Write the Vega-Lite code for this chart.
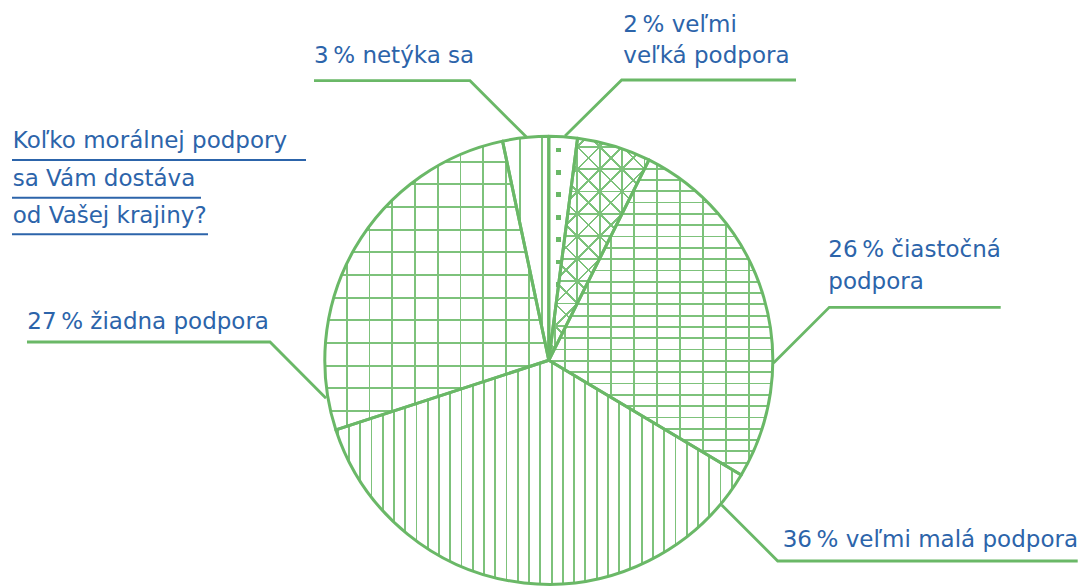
{
  "$schema": "https://vega.github.io/schema/vega-lite/v6.json",
  "width": 1081,
  "height": 586,
  "autosize": "none",
  "padding": 0,
  "background": "white",
  "config": {"view": {"stroke": null}},
  "datasets": {
    "slices": [
      {"id": "s1", "label": "veľmi veľká podpora", "value": 2.05, "ord": 1},
      {"id": "s2", "label": "veľká podpora", "value": 5.33, "ord": 2},
      {"id": "s3", "label": "čiastočná podpora", "value": 26.17, "ord": 3},
      {"id": "s4", "label": "veľmi malá podpora", "value": 36.42, "ord": 4},
      {"id": "s5", "label": "žiadna podpora", "value": 26.72, "ord": 5},
      {"id": "s6", "label": "netýka sa", "value": 3.31, "ord": 6}
    ],
    "leaders": [
      {"g": "a", "o": 1, "u": 7.23, "v": 100.13}, {"g": "a", "o": 2, "u": 32.54, "v": 125.13}, {"g": "a", "o": 3, "u": 110.36, "v": 125.13},
      {"g": "b", "o": 1, "u": -9.87, "v": 99.55}, {"g": "b", "o": 2, "u": -35.18, "v": 124.82}, {"g": "b", "o": 3, "u": -104.82, "v": 124.82},
      {"g": "c", "o": 1, "u": 100.31, "v": -1.21}, {"g": "c", "o": 2, "u": 125.22, "v": 23.66}, {"g": "c", "o": 3, "u": 201.74, "v": 23.66},
      {"g": "d", "o": 1, "u": 77.19, "v": -64.6}, {"g": "d", "o": 2, "u": 102.19, "v": -89.6}, {"g": "d", "o": 3, "u": 236.12, "v": -89.6},
      {"g": "e", "o": 1, "u": -232.95, "v": 8.17}, {"g": "e", "o": 2, "u": -124.46, "v": 8.17}, {"g": "e", "o": 3, "u": -99.46, "v": -16.96}
    ],
    "underlines": [
      {"u": -239.64, "u2": -108.39, "v": 89.42},
      {"u": -239.64, "u2": -155.27, "v": 72.59},
      {"u": -239.64, "u2": -152.14, "v": 56.25}
    ],
    "labels": [
      {"text": "Koľko morálnej podpory", "u": -239.33, "v": 94.64},
      {"text": "sa Vám dostáva", "u": -239.33, "v": 77.81},
      {"text": "od Vašej krajiny?", "u": -239.33, "v": 61.16},
      {"text": "3\u2009% netýka sa", "u": -104.82, "v": 132.59},
      {"text": "2\u2009% veľmi", "u": 33.26, "v": 146.7},
      {"text": "veľká podpora", "u": 33.26, "v": 132.59},
      {"text": "26\u2009% čiastočná", "u": 124.78, "v": 45.98},
      {"text": "podpora", "u": 124.78, "v": 31.61},
      {"text": "36\u2009% veľmi malá podpora", "u": 104.42, "v": -83.48},
      {"text": "27\u2009% žiadna podpora", "u": -232.81, "v": 13.84}
    ]
  },
  "layer": [
    {
      "data": {"name": "slices"},
      "transform": [{"stack": "value", "groupby": [], "sort": [{"field": "ord"}], "as": ["t0", "t1"]}, {"filter": "datum.id === 's1'"}],
      "mark": {"type": "arc", "radius": 224, "fill": {"gradient": "linear", "x1": 0, "y1": 0, "x2": 1, "y2": 0, "stops": [
        {"offset": 0, "color": "#ffffff"}, {"offset": 0.2433, "color": "#ffffff"}, {"offset": 0.2433, "color": "#6ab867"}, {"offset": 0.4171, "color": "#6ab867"}, {"offset": 0.4171, "color": "#ffffff"}, {"offset": 1, "color": "#ffffff"}]}},
      "encoding": {
        "theta": {"field": "t0", "type": "quantitative", "scale": {"domain": [0, 100]}},
        "theta2": {"field": "t1"},
        "x": {"datum": 0, "type": "quantitative", "scale": {"domain": [-245.0, 237.59], "nice": false, "zero": false}, "axis": null},
        "y": {"datum": 0, "type": "quantitative", "scale": {"domain": [-100.76, 160.85], "nice": false, "zero": false}, "axis": null}
      }
    },
    {
      "data": {"name": "slices"},
      "transform": [{"stack": "value", "groupby": [], "sort": [{"field": "ord"}], "as": ["t0", "t1"]}, {"filter": "datum.id === 's1'"}],
      "mark": {"type": "arc", "radius": 224, "fill": {"gradient": "linear", "x1": 0, "y1": 0, "x2": 0, "y2": 1, "stops": [
        {"offset": 0, "color": "#ffffff"},
        {"offset": 0.0505, "color": "#ffffff"}, {"offset": 0.0505, "color": "rgba(255,255,255,0)"}, {"offset": 0.0719, "color": "rgba(255,255,255,0)"}, {"offset": 0.0719, "color": "#ffffff"},
        {"offset": 0.1505, "color": "#ffffff"}, {"offset": 0.1505, "color": "rgba(255,255,255,0)"}, {"offset": 0.1719, "color": "rgba(255,255,255,0)"}, {"offset": 0.1719, "color": "#ffffff"},
        {"offset": 0.2505, "color": "#ffffff"}, {"offset": 0.2505, "color": "rgba(255,255,255,0)"}, {"offset": 0.2719, "color": "rgba(255,255,255,0)"}, {"offset": 0.2719, "color": "#ffffff"},
        {"offset": 0.3505, "color": "#ffffff"}, {"offset": 0.3505, "color": "rgba(255,255,255,0)"}, {"offset": 0.3719, "color": "rgba(255,255,255,0)"}, {"offset": 0.3719, "color": "#ffffff"},
        {"offset": 0.4505, "color": "#ffffff"}, {"offset": 0.4505, "color": "rgba(255,255,255,0)"}, {"offset": 0.4719, "color": "rgba(255,255,255,0)"}, {"offset": 0.4719, "color": "#ffffff"},
        {"offset": 0.5505, "color": "#ffffff"}, {"offset": 0.5505, "color": "rgba(255,255,255,0)"}, {"offset": 0.5719, "color": "rgba(255,255,255,0)"}, {"offset": 0.5719, "color": "#ffffff"},
        {"offset": 0.6505, "color": "#ffffff"}, {"offset": 0.6505, "color": "rgba(255,255,255,0)"}, {"offset": 0.6719, "color": "rgba(255,255,255,0)"}, {"offset": 0.6719, "color": "#ffffff"},
        {"offset": 0.7505, "color": "#ffffff"}, {"offset": 0.7505, "color": "rgba(255,255,255,0)"}, {"offset": 0.7719, "color": "rgba(255,255,255,0)"}, {"offset": 0.7719, "color": "#ffffff"},
        {"offset": 0.8505, "color": "#ffffff"}, {"offset": 0.8505, "color": "rgba(255,255,255,0)"}, {"offset": 0.8719, "color": "rgba(255,255,255,0)"}, {"offset": 0.8719, "color": "#ffffff"},
        {"offset": 0.9505, "color": "#ffffff"}, {"offset": 0.9505, "color": "rgba(255,255,255,0)"}, {"offset": 0.9719, "color": "rgba(255,255,255,0)"}, {"offset": 0.9719, "color": "#ffffff"},
        {"offset": 1, "color": "#ffffff"}]}},
      "encoding": {
        "theta": {"field": "t0", "type": "quantitative", "scale": {"domain": [0, 100]}},
        "theta2": {"field": "t1"},
        "x": {"datum": 0, "type": "quantitative", "scale": {"domain": [-245.0, 237.59], "nice": false, "zero": false}, "axis": null},
        "y": {"datum": 0, "type": "quantitative", "scale": {"domain": [-100.76, 160.85], "nice": false, "zero": false}, "axis": null}
      }
    },
    {
      "data": {"name": "slices"},
      "transform": [{"stack": "value", "groupby": [], "sort": [{"field": "ord"}], "as": ["t0", "t1"]}, {"filter": "datum.id === 's2'"}],
      "mark": {"type": "arc", "radius": 224, "fill": {"gradient": "linear", "x1": 0, "y1": 0, "x2": 1, "y2": 0, "stops": [
        {"offset": 0, "color": "#ffffff"},
        {"offset": 0.0519, "color": "#ffffff"}, {"offset": 0.0519, "color": "#7dc27b"}, {"offset": 0.0699, "color": "#7dc27b"}, {"offset": 0.0699, "color": "#ffffff"},
        {"offset": 0.2755, "color": "#ffffff"}, {"offset": 0.2755, "color": "#7dc27b"}, {"offset": 0.2935, "color": "#7dc27b"}, {"offset": 0.2935, "color": "#ffffff"},
        {"offset": 0.4991, "color": "#ffffff"}, {"offset": 0.4991, "color": "#7dc27b"}, {"offset": 0.5171, "color": "#7dc27b"}, {"offset": 0.5171, "color": "#ffffff"},
        {"offset": 0.7227, "color": "#ffffff"}, {"offset": 0.7227, "color": "#7dc27b"}, {"offset": 0.7407, "color": "#7dc27b"}, {"offset": 0.7407, "color": "#ffffff"},
        {"offset": 0.9463, "color": "#ffffff"}, {"offset": 0.9463, "color": "#7dc27b"}, {"offset": 0.9643, "color": "#7dc27b"}, {"offset": 0.9643, "color": "#ffffff"},
        {"offset": 1, "color": "#ffffff"}]}},
      "encoding": {
        "theta": {"field": "t0", "type": "quantitative", "scale": {"domain": [0, 100]}},
        "theta2": {"field": "t1"},
        "x": {"datum": 0, "type": "quantitative", "scale": {"domain": [-245.0, 237.59], "nice": false, "zero": false}, "axis": null},
        "y": {"datum": 0, "type": "quantitative", "scale": {"domain": [-100.76, 160.85], "nice": false, "zero": false}, "axis": null}
      }
    },
    {
      "data": {"name": "slices"},
      "transform": [{"stack": "value", "groupby": [], "sort": [{"field": "ord"}], "as": ["t0", "t1"]}, {"filter": "datum.id === 's2'"}],
      "mark": {"type": "arc", "radius": 224, "fill": {"gradient": "linear", "x1": 0, "y1": 0, "x2": 0, "y2": 1, "stops": [
        {"offset": 0, "color": "rgba(255,255,255,0)"},
        {"offset": 0.0344, "color": "rgba(255,255,255,0)"}, {"offset": 0.0344, "color": "#7dc27b"}, {"offset": 0.0426, "color": "#7dc27b"}, {"offset": 0.0426, "color": "rgba(255,255,255,0)"},
        {"offset": 0.1352, "color": "rgba(255,255,255,0)"}, {"offset": 0.1352, "color": "#7dc27b"}, {"offset": 0.1434, "color": "#7dc27b"}, {"offset": 0.1434, "color": "rgba(255,255,255,0)"},
        {"offset": 0.2361, "color": "rgba(255,255,255,0)"}, {"offset": 0.2361, "color": "#7dc27b"}, {"offset": 0.2443, "color": "#7dc27b"}, {"offset": 0.2443, "color": "rgba(255,255,255,0)"},
        {"offset": 0.3369, "color": "rgba(255,255,255,0)"}, {"offset": 0.3369, "color": "#7dc27b"}, {"offset": 0.3451, "color": "#7dc27b"}, {"offset": 0.3451, "color": "rgba(255,255,255,0)"},
        {"offset": 0.4377, "color": "rgba(255,255,255,0)"}, {"offset": 0.4377, "color": "#7dc27b"}, {"offset": 0.4459, "color": "#7dc27b"}, {"offset": 0.4459, "color": "rgba(255,255,255,0)"},
        {"offset": 0.5386, "color": "rgba(255,255,255,0)"}, {"offset": 0.5386, "color": "#7dc27b"}, {"offset": 0.5468, "color": "#7dc27b"}, {"offset": 0.5468, "color": "rgba(255,255,255,0)"},
        {"offset": 0.6394, "color": "rgba(255,255,255,0)"}, {"offset": 0.6394, "color": "#7dc27b"}, {"offset": 0.6476, "color": "#7dc27b"}, {"offset": 0.6476, "color": "rgba(255,255,255,0)"},
        {"offset": 0.7402, "color": "rgba(255,255,255,0)"}, {"offset": 0.7402, "color": "#7dc27b"}, {"offset": 0.7484, "color": "#7dc27b"}, {"offset": 0.7484, "color": "rgba(255,255,255,0)"},
        {"offset": 0.8411, "color": "rgba(255,255,255,0)"}, {"offset": 0.8411, "color": "#7dc27b"}, {"offset": 0.8493, "color": "#7dc27b"}, {"offset": 0.8493, "color": "rgba(255,255,255,0)"},
        {"offset": 0.9419, "color": "rgba(255,255,255,0)"}, {"offset": 0.9419, "color": "#7dc27b"}, {"offset": 0.9501, "color": "#7dc27b"}, {"offset": 0.9501, "color": "rgba(255,255,255,0)"},
        {"offset": 1, "color": "rgba(255,255,255,0)"}]}},
      "encoding": {
        "theta": {"field": "t0", "type": "quantitative", "scale": {"domain": [0, 100]}},
        "theta2": {"field": "t1"},
        "x": {"datum": 0, "type": "quantitative", "scale": {"domain": [-245.0, 237.59], "nice": false, "zero": false}, "axis": null},
        "y": {"datum": 0, "type": "quantitative", "scale": {"domain": [-100.76, 160.85], "nice": false, "zero": false}, "axis": null}
      }
    },
    {
      "data": {"name": "slices"},
      "transform": [{"stack": "value", "groupby": [], "sort": [{"field": "ord"}], "as": ["t0", "t1"]}, {"filter": "datum.id === 's2'"}],
      "mark": {"type": "arc", "radius": 224, "fill": {"gradient": "linear", "x1": 0, "y1": 0, "x2": 0.4049, "y2": 0.8978, "stops": [
        {"offset": 0, "color": "rgba(255,255,255,0)"},
        {"offset": 0.1491, "color": "rgba(255,255,255,0)"}, {"offset": 0.1491, "color": "#7dc27b"}, {"offset": 0.1597, "color": "#7dc27b"}, {"offset": 0.1597, "color": "rgba(255,255,255,0)"},
        {"offset": 0.2424, "color": "rgba(255,255,255,0)"}, {"offset": 0.2424, "color": "#7dc27b"}, {"offset": 0.2530, "color": "#7dc27b"}, {"offset": 0.2530, "color": "rgba(255,255,255,0)"},
        {"offset": 0.3357, "color": "rgba(255,255,255,0)"}, {"offset": 0.3357, "color": "#7dc27b"}, {"offset": 0.3463, "color": "#7dc27b"}, {"offset": 0.3463, "color": "rgba(255,255,255,0)"},
        {"offset": 0.4291, "color": "rgba(255,255,255,0)"}, {"offset": 0.4291, "color": "#7dc27b"}, {"offset": 0.4397, "color": "#7dc27b"}, {"offset": 0.4397, "color": "rgba(255,255,255,0)"},
        {"offset": 0.5224, "color": "rgba(255,255,255,0)"}, {"offset": 0.5224, "color": "#7dc27b"}, {"offset": 0.5330, "color": "#7dc27b"}, {"offset": 0.5330, "color": "rgba(255,255,255,0)"},
        {"offset": 0.6157, "color": "rgba(255,255,255,0)"}, {"offset": 0.6157, "color": "#7dc27b"}, {"offset": 0.6263, "color": "#7dc27b"}, {"offset": 0.6263, "color": "rgba(255,255,255,0)"},
        {"offset": 0.7091, "color": "rgba(255,255,255,0)"}, {"offset": 0.7091, "color": "#7dc27b"}, {"offset": 0.7197, "color": "#7dc27b"}, {"offset": 0.7197, "color": "rgba(255,255,255,0)"},
        {"offset": 0.8024, "color": "rgba(255,255,255,0)"}, {"offset": 0.8024, "color": "#7dc27b"}, {"offset": 0.8130, "color": "#7dc27b"}, {"offset": 0.8130, "color": "rgba(255,255,255,0)"},
        {"offset": 0.8957, "color": "rgba(255,255,255,0)"}, {"offset": 0.8957, "color": "#7dc27b"}, {"offset": 0.9063, "color": "#7dc27b"}, {"offset": 0.9063, "color": "rgba(255,255,255,0)"},
        {"offset": 1, "color": "rgba(255,255,255,0)"}]}},
      "encoding": {
        "theta": {"field": "t0", "type": "quantitative", "scale": {"domain": [0, 100]}},
        "theta2": {"field": "t1"},
        "x": {"datum": 0, "type": "quantitative", "scale": {"domain": [-245.0, 237.59], "nice": false, "zero": false}, "axis": null},
        "y": {"datum": 0, "type": "quantitative", "scale": {"domain": [-100.76, 160.85], "nice": false, "zero": false}, "axis": null}
      }
    },
    {
      "data": {"name": "slices"},
      "transform": [{"stack": "value", "groupby": [], "sort": [{"field": "ord"}], "as": ["t0", "t1"]}, {"filter": "datum.id === 's2'"}],
      "mark": {"type": "arc", "radius": 224, "fill": {"gradient": "linear", "x1": 0, "y1": 1, "x2": 0.5398, "y2": -0.197, "stops": [
        {"offset": 0, "color": "rgba(255,255,255,0)"},
        {"offset": 0.0526, "color": "rgba(255,255,255,0)"}, {"offset": 0.0526, "color": "#7dc27b"}, {"offset": 0.0606, "color": "#7dc27b"}, {"offset": 0.0606, "color": "rgba(255,255,255,0)"},
        {"offset": 0.1226, "color": "rgba(255,255,255,0)"}, {"offset": 0.1226, "color": "#7dc27b"}, {"offset": 0.1306, "color": "#7dc27b"}, {"offset": 0.1306, "color": "rgba(255,255,255,0)"},
        {"offset": 0.1926, "color": "rgba(255,255,255,0)"}, {"offset": 0.1926, "color": "#7dc27b"}, {"offset": 0.2006, "color": "#7dc27b"}, {"offset": 0.2006, "color": "rgba(255,255,255,0)"},
        {"offset": 0.2626, "color": "rgba(255,255,255,0)"}, {"offset": 0.2626, "color": "#7dc27b"}, {"offset": 0.2706, "color": "#7dc27b"}, {"offset": 0.2706, "color": "rgba(255,255,255,0)"},
        {"offset": 0.3326, "color": "rgba(255,255,255,0)"}, {"offset": 0.3326, "color": "#7dc27b"}, {"offset": 0.3406, "color": "#7dc27b"}, {"offset": 0.3406, "color": "rgba(255,255,255,0)"},
        {"offset": 0.4026, "color": "rgba(255,255,255,0)"}, {"offset": 0.4026, "color": "#7dc27b"}, {"offset": 0.4106, "color": "#7dc27b"}, {"offset": 0.4106, "color": "rgba(255,255,255,0)"},
        {"offset": 0.4726, "color": "rgba(255,255,255,0)"}, {"offset": 0.4726, "color": "#7dc27b"}, {"offset": 0.4806, "color": "#7dc27b"}, {"offset": 0.4806, "color": "rgba(255,255,255,0)"},
        {"offset": 0.5426, "color": "rgba(255,255,255,0)"}, {"offset": 0.5426, "color": "#7dc27b"}, {"offset": 0.5506, "color": "#7dc27b"}, {"offset": 0.5506, "color": "rgba(255,255,255,0)"},
        {"offset": 0.6126, "color": "rgba(255,255,255,0)"}, {"offset": 0.6126, "color": "#7dc27b"}, {"offset": 0.6206, "color": "#7dc27b"}, {"offset": 0.6206, "color": "rgba(255,255,255,0)"},
        {"offset": 0.6826, "color": "rgba(255,255,255,0)"}, {"offset": 0.6826, "color": "#7dc27b"}, {"offset": 0.6906, "color": "#7dc27b"}, {"offset": 0.6906, "color": "rgba(255,255,255,0)"},
        {"offset": 0.7526, "color": "rgba(255,255,255,0)"}, {"offset": 0.7526, "color": "#7dc27b"}, {"offset": 0.7606, "color": "#7dc27b"}, {"offset": 0.7606, "color": "rgba(255,255,255,0)"},
        {"offset": 0.8226, "color": "rgba(255,255,255,0)"}, {"offset": 0.8226, "color": "#7dc27b"}, {"offset": 0.8306, "color": "#7dc27b"}, {"offset": 0.8306, "color": "rgba(255,255,255,0)"},
        {"offset": 0.8926, "color": "rgba(255,255,255,0)"}, {"offset": 0.8926, "color": "#7dc27b"}, {"offset": 0.9006, "color": "#7dc27b"}, {"offset": 0.9006, "color": "rgba(255,255,255,0)"},
        {"offset": 1, "color": "rgba(255,255,255,0)"}]}},
      "encoding": {
        "theta": {"field": "t0", "type": "quantitative", "scale": {"domain": [0, 100]}},
        "theta2": {"field": "t1"},
        "x": {"datum": 0, "type": "quantitative", "scale": {"domain": [-245.0, 237.59], "nice": false, "zero": false}, "axis": null},
        "y": {"datum": 0, "type": "quantitative", "scale": {"domain": [-100.76, 160.85], "nice": false, "zero": false}, "axis": null}
      }
    },
    {
      "data": {"name": "slices"},
      "transform": [{"stack": "value", "groupby": [], "sort": [{"field": "ord"}], "as": ["t0", "t1"]}, {"filter": "datum.id === 's3'"}],
      "mark": {"type": "arc", "radius": 224, "fill": {"gradient": "linear", "x1": 0, "y1": 0, "x2": 1, "y2": 0, "stops": [
        {"offset": 0, "color": "#ffffff"},
        {"offset": 0.0670, "color": "#ffffff"}, {"offset": 0.0670, "color": "#7dc27b"}, {"offset": 0.0750, "color": "#7dc27b"}, {"offset": 0.0750, "color": "#ffffff"},
        {"offset": 0.1697, "color": "#ffffff"}, {"offset": 0.1697, "color": "#7dc27b"}, {"offset": 0.1777, "color": "#7dc27b"}, {"offset": 0.1777, "color": "#ffffff"},
        {"offset": 0.2723, "color": "#ffffff"}, {"offset": 0.2723, "color": "#7dc27b"}, {"offset": 0.2803, "color": "#7dc27b"}, {"offset": 0.2803, "color": "#ffffff"},
        {"offset": 0.3750, "color": "#ffffff"}, {"offset": 0.3750, "color": "#7dc27b"}, {"offset": 0.3830, "color": "#7dc27b"}, {"offset": 0.3830, "color": "#ffffff"},
        {"offset": 0.4777, "color": "#ffffff"}, {"offset": 0.4777, "color": "#7dc27b"}, {"offset": 0.4857, "color": "#7dc27b"}, {"offset": 0.4857, "color": "#ffffff"},
        {"offset": 0.5804, "color": "#ffffff"}, {"offset": 0.5804, "color": "#7dc27b"}, {"offset": 0.5884, "color": "#7dc27b"}, {"offset": 0.5884, "color": "#ffffff"},
        {"offset": 0.6831, "color": "#ffffff"}, {"offset": 0.6831, "color": "#7dc27b"}, {"offset": 0.6911, "color": "#7dc27b"}, {"offset": 0.6911, "color": "#ffffff"},
        {"offset": 0.7857, "color": "#ffffff"}, {"offset": 0.7857, "color": "#7dc27b"}, {"offset": 0.7937, "color": "#7dc27b"}, {"offset": 0.7937, "color": "#ffffff"},
        {"offset": 0.8884, "color": "#ffffff"}, {"offset": 0.8884, "color": "#7dc27b"}, {"offset": 0.8964, "color": "#7dc27b"}, {"offset": 0.8964, "color": "#ffffff"},
        {"offset": 1, "color": "#ffffff"}]}},
      "encoding": {
        "theta": {"field": "t0", "type": "quantitative", "scale": {"domain": [0, 100]}},
        "theta2": {"field": "t1"},
        "x": {"datum": 0, "type": "quantitative", "scale": {"domain": [-245.0, 237.59], "nice": false, "zero": false}, "axis": null},
        "y": {"datum": 0, "type": "quantitative", "scale": {"domain": [-100.76, 160.85], "nice": false, "zero": false}, "axis": null}
      }
    },
    {
      "data": {"name": "slices"},
      "transform": [{"stack": "value", "groupby": [], "sort": [{"field": "ord"}], "as": ["t0", "t1"]}, {"filter": "datum.id === 's3'"}],
      "mark": {"type": "arc", "radius": 224, "fill": {"gradient": "linear", "x1": 0, "y1": 0, "x2": 0, "y2": 1, "stops": [
        {"offset": 0, "color": "rgba(255,255,255,0)"},
        {"offset": 0.0246, "color": "rgba(255,255,255,0)"}, {"offset": 0.0246, "color": "#7dc27b"}, {"offset": 0.0304, "color": "#7dc27b"}, {"offset": 0.0304, "color": "rgba(255,255,255,0)"},
        {"offset": 0.0605, "color": "rgba(255,255,255,0)"}, {"offset": 0.0605, "color": "#7dc27b"}, {"offset": 0.0663, "color": "#7dc27b"}, {"offset": 0.0663, "color": "rgba(255,255,255,0)"},
        {"offset": 0.0965, "color": "rgba(255,255,255,0)"}, {"offset": 0.0965, "color": "#7dc27b"}, {"offset": 0.1022, "color": "#7dc27b"}, {"offset": 0.1022, "color": "rgba(255,255,255,0)"},
        {"offset": 0.1324, "color": "rgba(255,255,255,0)"}, {"offset": 0.1324, "color": "#7dc27b"}, {"offset": 0.1381, "color": "#7dc27b"}, {"offset": 0.1381, "color": "rgba(255,255,255,0)"},
        {"offset": 0.1683, "color": "rgba(255,255,255,0)"}, {"offset": 0.1683, "color": "#7dc27b"}, {"offset": 0.1740, "color": "#7dc27b"}, {"offset": 0.1740, "color": "rgba(255,255,255,0)"},
        {"offset": 0.2042, "color": "rgba(255,255,255,0)"}, {"offset": 0.2042, "color": "#7dc27b"}, {"offset": 0.2099, "color": "#7dc27b"}, {"offset": 0.2099, "color": "rgba(255,255,255,0)"},
        {"offset": 0.2401, "color": "rgba(255,255,255,0)"}, {"offset": 0.2401, "color": "#7dc27b"}, {"offset": 0.2458, "color": "#7dc27b"}, {"offset": 0.2458, "color": "rgba(255,255,255,0)"},
        {"offset": 0.2760, "color": "rgba(255,255,255,0)"}, {"offset": 0.2760, "color": "#7dc27b"}, {"offset": 0.2817, "color": "#7dc27b"}, {"offset": 0.2817, "color": "rgba(255,255,255,0)"},
        {"offset": 0.3119, "color": "rgba(255,255,255,0)"}, {"offset": 0.3119, "color": "#7dc27b"}, {"offset": 0.3176, "color": "#7dc27b"}, {"offset": 0.3176, "color": "rgba(255,255,255,0)"},
        {"offset": 0.3478, "color": "rgba(255,255,255,0)"}, {"offset": 0.3478, "color": "#7dc27b"}, {"offset": 0.3535, "color": "#7dc27b"}, {"offset": 0.3535, "color": "rgba(255,255,255,0)"},
        {"offset": 0.3837, "color": "rgba(255,255,255,0)"}, {"offset": 0.3837, "color": "#7dc27b"}, {"offset": 0.3894, "color": "#7dc27b"}, {"offset": 0.3894, "color": "rgba(255,255,255,0)"},
        {"offset": 0.4196, "color": "rgba(255,255,255,0)"}, {"offset": 0.4196, "color": "#7dc27b"}, {"offset": 0.4253, "color": "#7dc27b"}, {"offset": 0.4253, "color": "rgba(255,255,255,0)"},
        {"offset": 0.4555, "color": "rgba(255,255,255,0)"}, {"offset": 0.4555, "color": "#7dc27b"}, {"offset": 0.4612, "color": "#7dc27b"}, {"offset": 0.4612, "color": "rgba(255,255,255,0)"},
        {"offset": 0.4914, "color": "rgba(255,255,255,0)"}, {"offset": 0.4914, "color": "#7dc27b"}, {"offset": 0.4971, "color": "#7dc27b"}, {"offset": 0.4971, "color": "rgba(255,255,255,0)"},
        {"offset": 0.5273, "color": "rgba(255,255,255,0)"}, {"offset": 0.5273, "color": "#7dc27b"}, {"offset": 0.5330, "color": "#7dc27b"}, {"offset": 0.5330, "color": "rgba(255,255,255,0)"},
        {"offset": 0.5632, "color": "rgba(255,255,255,0)"}, {"offset": 0.5632, "color": "#7dc27b"}, {"offset": 0.5689, "color": "#7dc27b"}, {"offset": 0.5689, "color": "rgba(255,255,255,0)"},
        {"offset": 0.5991, "color": "rgba(255,255,255,0)"}, {"offset": 0.5991, "color": "#7dc27b"}, {"offset": 0.6049, "color": "#7dc27b"}, {"offset": 0.6049, "color": "rgba(255,255,255,0)"},
        {"offset": 0.6350, "color": "rgba(255,255,255,0)"}, {"offset": 0.6350, "color": "#7dc27b"}, {"offset": 0.6408, "color": "#7dc27b"}, {"offset": 0.6408, "color": "rgba(255,255,255,0)"},
        {"offset": 0.6710, "color": "rgba(255,255,255,0)"}, {"offset": 0.6710, "color": "#7dc27b"}, {"offset": 0.6767, "color": "#7dc27b"}, {"offset": 0.6767, "color": "rgba(255,255,255,0)"},
        {"offset": 0.7069, "color": "rgba(255,255,255,0)"}, {"offset": 0.7069, "color": "#7dc27b"}, {"offset": 0.7126, "color": "#7dc27b"}, {"offset": 0.7126, "color": "rgba(255,255,255,0)"},
        {"offset": 0.7428, "color": "rgba(255,255,255,0)"}, {"offset": 0.7428, "color": "#7dc27b"}, {"offset": 0.7485, "color": "#7dc27b"}, {"offset": 0.7485, "color": "rgba(255,255,255,0)"},
        {"offset": 0.7787, "color": "rgba(255,255,255,0)"}, {"offset": 0.7787, "color": "#7dc27b"}, {"offset": 0.7844, "color": "#7dc27b"}, {"offset": 0.7844, "color": "rgba(255,255,255,0)"},
        {"offset": 0.8146, "color": "rgba(255,255,255,0)"}, {"offset": 0.8146, "color": "#7dc27b"}, {"offset": 0.8203, "color": "#7dc27b"}, {"offset": 0.8203, "color": "rgba(255,255,255,0)"},
        {"offset": 0.8505, "color": "rgba(255,255,255,0)"}, {"offset": 0.8505, "color": "#7dc27b"}, {"offset": 0.8562, "color": "#7dc27b"}, {"offset": 0.8562, "color": "rgba(255,255,255,0)"},
        {"offset": 0.8864, "color": "rgba(255,255,255,0)"}, {"offset": 0.8864, "color": "#7dc27b"}, {"offset": 0.8921, "color": "#7dc27b"}, {"offset": 0.8921, "color": "rgba(255,255,255,0)"},
        {"offset": 0.9223, "color": "rgba(255,255,255,0)"}, {"offset": 0.9223, "color": "#7dc27b"}, {"offset": 0.9280, "color": "#7dc27b"}, {"offset": 0.9280, "color": "rgba(255,255,255,0)"},
        {"offset": 0.9582, "color": "rgba(255,255,255,0)"}, {"offset": 0.9582, "color": "#7dc27b"}, {"offset": 0.9639, "color": "#7dc27b"}, {"offset": 0.9639, "color": "rgba(255,255,255,0)"},
        {"offset": 1, "color": "rgba(255,255,255,0)"}]}},
      "encoding": {
        "theta": {"field": "t0", "type": "quantitative", "scale": {"domain": [0, 100]}},
        "theta2": {"field": "t1"},
        "x": {"datum": 0, "type": "quantitative", "scale": {"domain": [-245.0, 237.59], "nice": false, "zero": false}, "axis": null},
        "y": {"datum": 0, "type": "quantitative", "scale": {"domain": [-100.76, 160.85], "nice": false, "zero": false}, "axis": null}
      }
    },
    {
      "data": {"name": "slices"},
      "transform": [{"stack": "value", "groupby": [], "sort": [{"field": "ord"}], "as": ["t0", "t1"]}, {"filter": "datum.id === 's4'"}],
      "mark": {"type": "arc", "radius": 224, "fill": {"gradient": "linear", "x1": 0, "y1": 0, "x2": 1, "y2": 0, "stops": [
        {"offset": 0, "color": "#ffffff"},
        {"offset": 0.0023, "color": "#ffffff"}, {"offset": 0.0023, "color": "#7dc27b"}, {"offset": 0.0068, "color": "#7dc27b"}, {"offset": 0.0068, "color": "#ffffff"},
        {"offset": 0.0301, "color": "#ffffff"}, {"offset": 0.0301, "color": "#7dc27b"}, {"offset": 0.0345, "color": "#7dc27b"}, {"offset": 0.0345, "color": "#ffffff"},
        {"offset": 0.0579, "color": "#ffffff"}, {"offset": 0.0579, "color": "#7dc27b"}, {"offset": 0.0623, "color": "#7dc27b"}, {"offset": 0.0623, "color": "#ffffff"},
        {"offset": 0.0856, "color": "#ffffff"}, {"offset": 0.0856, "color": "#7dc27b"}, {"offset": 0.0901, "color": "#7dc27b"}, {"offset": 0.0901, "color": "#ffffff"},
        {"offset": 0.1134, "color": "#ffffff"}, {"offset": 0.1134, "color": "#7dc27b"}, {"offset": 0.1178, "color": "#7dc27b"}, {"offset": 0.1178, "color": "#ffffff"},
        {"offset": 0.1412, "color": "#ffffff"}, {"offset": 0.1412, "color": "#7dc27b"}, {"offset": 0.1456, "color": "#7dc27b"}, {"offset": 0.1456, "color": "#ffffff"},
        {"offset": 0.1689, "color": "#ffffff"}, {"offset": 0.1689, "color": "#7dc27b"}, {"offset": 0.1734, "color": "#7dc27b"}, {"offset": 0.1734, "color": "#ffffff"},
        {"offset": 0.1967, "color": "#ffffff"}, {"offset": 0.1967, "color": "#7dc27b"}, {"offset": 0.2011, "color": "#7dc27b"}, {"offset": 0.2011, "color": "#ffffff"},
        {"offset": 0.2245, "color": "#ffffff"}, {"offset": 0.2245, "color": "#7dc27b"}, {"offset": 0.2289, "color": "#7dc27b"}, {"offset": 0.2289, "color": "#ffffff"},
        {"offset": 0.2523, "color": "#ffffff"}, {"offset": 0.2523, "color": "#7dc27b"}, {"offset": 0.2567, "color": "#7dc27b"}, {"offset": 0.2567, "color": "#ffffff"},
        {"offset": 0.2800, "color": "#ffffff"}, {"offset": 0.2800, "color": "#7dc27b"}, {"offset": 0.2845, "color": "#7dc27b"}, {"offset": 0.2845, "color": "#ffffff"},
        {"offset": 0.3078, "color": "#ffffff"}, {"offset": 0.3078, "color": "#7dc27b"}, {"offset": 0.3122, "color": "#7dc27b"}, {"offset": 0.3122, "color": "#ffffff"},
        {"offset": 0.3356, "color": "#ffffff"}, {"offset": 0.3356, "color": "#7dc27b"}, {"offset": 0.3400, "color": "#7dc27b"}, {"offset": 0.3400, "color": "#ffffff"},
        {"offset": 0.3633, "color": "#ffffff"}, {"offset": 0.3633, "color": "#7dc27b"}, {"offset": 0.3678, "color": "#7dc27b"}, {"offset": 0.3678, "color": "#ffffff"},
        {"offset": 0.3911, "color": "#ffffff"}, {"offset": 0.3911, "color": "#7dc27b"}, {"offset": 0.3955, "color": "#7dc27b"}, {"offset": 0.3955, "color": "#ffffff"},
        {"offset": 0.4189, "color": "#ffffff"}, {"offset": 0.4189, "color": "#7dc27b"}, {"offset": 0.4233, "color": "#7dc27b"}, {"offset": 0.4233, "color": "#ffffff"},
        {"offset": 0.4466, "color": "#ffffff"}, {"offset": 0.4466, "color": "#7dc27b"}, {"offset": 0.4511, "color": "#7dc27b"}, {"offset": 0.4511, "color": "#ffffff"},
        {"offset": 0.4744, "color": "#ffffff"}, {"offset": 0.4744, "color": "#7dc27b"}, {"offset": 0.4788, "color": "#7dc27b"}, {"offset": 0.4788, "color": "#ffffff"},
        {"offset": 0.5022, "color": "#ffffff"}, {"offset": 0.5022, "color": "#7dc27b"}, {"offset": 0.5066, "color": "#7dc27b"}, {"offset": 0.5066, "color": "#ffffff"},
        {"offset": 0.5299, "color": "#ffffff"}, {"offset": 0.5299, "color": "#7dc27b"}, {"offset": 0.5344, "color": "#7dc27b"}, {"offset": 0.5344, "color": "#ffffff"},
        {"offset": 0.5577, "color": "#ffffff"}, {"offset": 0.5577, "color": "#7dc27b"}, {"offset": 0.5622, "color": "#7dc27b"}, {"offset": 0.5622, "color": "#ffffff"},
        {"offset": 0.5855, "color": "#ffffff"}, {"offset": 0.5855, "color": "#7dc27b"}, {"offset": 0.5899, "color": "#7dc27b"}, {"offset": 0.5899, "color": "#ffffff"},
        {"offset": 0.6133, "color": "#ffffff"}, {"offset": 0.6133, "color": "#7dc27b"}, {"offset": 0.6177, "color": "#7dc27b"}, {"offset": 0.6177, "color": "#ffffff"},
        {"offset": 0.6410, "color": "#ffffff"}, {"offset": 0.6410, "color": "#7dc27b"}, {"offset": 0.6455, "color": "#7dc27b"}, {"offset": 0.6455, "color": "#ffffff"},
        {"offset": 0.6688, "color": "#ffffff"}, {"offset": 0.6688, "color": "#7dc27b"}, {"offset": 0.6732, "color": "#7dc27b"}, {"offset": 0.6732, "color": "#ffffff"},
        {"offset": 0.6966, "color": "#ffffff"}, {"offset": 0.6966, "color": "#7dc27b"}, {"offset": 0.7010, "color": "#7dc27b"}, {"offset": 0.7010, "color": "#ffffff"},
        {"offset": 0.7243, "color": "#ffffff"}, {"offset": 0.7243, "color": "#7dc27b"}, {"offset": 0.7288, "color": "#7dc27b"}, {"offset": 0.7288, "color": "#ffffff"},
        {"offset": 0.7521, "color": "#ffffff"}, {"offset": 0.7521, "color": "#7dc27b"}, {"offset": 0.7565, "color": "#7dc27b"}, {"offset": 0.7565, "color": "#ffffff"},
        {"offset": 0.7799, "color": "#ffffff"}, {"offset": 0.7799, "color": "#7dc27b"}, {"offset": 0.7843, "color": "#7dc27b"}, {"offset": 0.7843, "color": "#ffffff"},
        {"offset": 0.8076, "color": "#ffffff"}, {"offset": 0.8076, "color": "#7dc27b"}, {"offset": 0.8121, "color": "#7dc27b"}, {"offset": 0.8121, "color": "#ffffff"},
        {"offset": 0.8354, "color": "#ffffff"}, {"offset": 0.8354, "color": "#7dc27b"}, {"offset": 0.8398, "color": "#7dc27b"}, {"offset": 0.8398, "color": "#ffffff"},
        {"offset": 0.8632, "color": "#ffffff"}, {"offset": 0.8632, "color": "#7dc27b"}, {"offset": 0.8676, "color": "#7dc27b"}, {"offset": 0.8676, "color": "#ffffff"},
        {"offset": 0.8909, "color": "#ffffff"}, {"offset": 0.8909, "color": "#7dc27b"}, {"offset": 0.8954, "color": "#7dc27b"}, {"offset": 0.8954, "color": "#ffffff"},
        {"offset": 0.9187, "color": "#ffffff"}, {"offset": 0.9187, "color": "#7dc27b"}, {"offset": 0.9231, "color": "#7dc27b"}, {"offset": 0.9231, "color": "#ffffff"},
        {"offset": 0.9465, "color": "#ffffff"}, {"offset": 0.9465, "color": "#7dc27b"}, {"offset": 0.9509, "color": "#7dc27b"}, {"offset": 0.9509, "color": "#ffffff"},
        {"offset": 0.9742, "color": "#ffffff"}, {"offset": 0.9742, "color": "#7dc27b"}, {"offset": 0.9787, "color": "#7dc27b"}, {"offset": 0.9787, "color": "#ffffff"},
        {"offset": 1, "color": "#ffffff"}]}},
      "encoding": {
        "theta": {"field": "t0", "type": "quantitative", "scale": {"domain": [0, 100]}},
        "theta2": {"field": "t1"},
        "x": {"datum": 0, "type": "quantitative", "scale": {"domain": [-245.0, 237.59], "nice": false, "zero": false}, "axis": null},
        "y": {"datum": 0, "type": "quantitative", "scale": {"domain": [-100.76, 160.85], "nice": false, "zero": false}, "axis": null}
      }
    },
    {
      "data": {"name": "slices"},
      "transform": [{"stack": "value", "groupby": [], "sort": [{"field": "ord"}], "as": ["t0", "t1"]}, {"filter": "datum.id === 's5'"}],
      "mark": {"type": "arc", "radius": 224, "fill": {"gradient": "linear", "x1": 0, "y1": 0, "x2": 1, "y2": 0, "stops": [
        {"offset": 0, "color": "#ffffff"},
        {"offset": 0.0938, "color": "#ffffff"}, {"offset": 0.0938, "color": "#7dc27b"}, {"offset": 0.1018, "color": "#7dc27b"}, {"offset": 0.1018, "color": "#ffffff"},
        {"offset": 0.1954, "color": "#ffffff"}, {"offset": 0.1954, "color": "#7dc27b"}, {"offset": 0.2034, "color": "#7dc27b"}, {"offset": 0.2034, "color": "#ffffff"},
        {"offset": 0.2970, "color": "#ffffff"}, {"offset": 0.2970, "color": "#7dc27b"}, {"offset": 0.3050, "color": "#7dc27b"}, {"offset": 0.3050, "color": "#ffffff"},
        {"offset": 0.3986, "color": "#ffffff"}, {"offset": 0.3986, "color": "#7dc27b"}, {"offset": 0.4066, "color": "#7dc27b"}, {"offset": 0.4066, "color": "#ffffff"},
        {"offset": 0.5002, "color": "#ffffff"}, {"offset": 0.5002, "color": "#7dc27b"}, {"offset": 0.5082, "color": "#7dc27b"}, {"offset": 0.5082, "color": "#ffffff"},
        {"offset": 0.6018, "color": "#ffffff"}, {"offset": 0.6018, "color": "#7dc27b"}, {"offset": 0.6098, "color": "#7dc27b"}, {"offset": 0.6098, "color": "#ffffff"},
        {"offset": 0.7034, "color": "#ffffff"}, {"offset": 0.7034, "color": "#7dc27b"}, {"offset": 0.7114, "color": "#7dc27b"}, {"offset": 0.7114, "color": "#ffffff"},
        {"offset": 0.8050, "color": "#ffffff"}, {"offset": 0.8050, "color": "#7dc27b"}, {"offset": 0.8130, "color": "#7dc27b"}, {"offset": 0.8130, "color": "#ffffff"},
        {"offset": 0.9066, "color": "#ffffff"}, {"offset": 0.9066, "color": "#7dc27b"}, {"offset": 0.9146, "color": "#7dc27b"}, {"offset": 0.9146, "color": "#ffffff"},
        {"offset": 1, "color": "#ffffff"}]}},
      "encoding": {
        "theta": {"field": "t0", "type": "quantitative", "scale": {"domain": [0, 100]}},
        "theta2": {"field": "t1"},
        "x": {"datum": 0, "type": "quantitative", "scale": {"domain": [-245.0, 237.59], "nice": false, "zero": false}, "axis": null},
        "y": {"datum": 0, "type": "quantitative", "scale": {"domain": [-100.76, 160.85], "nice": false, "zero": false}, "axis": null}
      }
    },
    {
      "data": {"name": "slices"},
      "transform": [{"stack": "value", "groupby": [], "sort": [{"field": "ord"}], "as": ["t0", "t1"]}, {"filter": "datum.id === 's5'"}],
      "mark": {"type": "arc", "radius": 224, "fill": {"gradient": "linear", "x1": 0, "y1": 0, "x2": 0, "y2": 1, "stops": [
        {"offset": 0, "color": "rgba(255,255,255,0)"},
        {"offset": 0.0681, "color": "rgba(255,255,255,0)"}, {"offset": 0.0681, "color": "#7dc27b"}, {"offset": 0.0743, "color": "#7dc27b"}, {"offset": 0.0743, "color": "rgba(255,255,255,0)"},
        {"offset": 0.1466, "color": "rgba(255,255,255,0)"}, {"offset": 0.1466, "color": "#7dc27b"}, {"offset": 0.1528, "color": "#7dc27b"}, {"offset": 0.1528, "color": "rgba(255,255,255,0)"},
        {"offset": 0.2251, "color": "rgba(255,255,255,0)"}, {"offset": 0.2251, "color": "#7dc27b"}, {"offset": 0.2313, "color": "#7dc27b"}, {"offset": 0.2313, "color": "rgba(255,255,255,0)"},
        {"offset": 0.3036, "color": "rgba(255,255,255,0)"}, {"offset": 0.3036, "color": "#7dc27b"}, {"offset": 0.3098, "color": "#7dc27b"}, {"offset": 0.3098, "color": "rgba(255,255,255,0)"},
        {"offset": 0.3821, "color": "rgba(255,255,255,0)"}, {"offset": 0.3821, "color": "#7dc27b"}, {"offset": 0.3883, "color": "#7dc27b"}, {"offset": 0.3883, "color": "rgba(255,255,255,0)"},
        {"offset": 0.4606, "color": "rgba(255,255,255,0)"}, {"offset": 0.4606, "color": "#7dc27b"}, {"offset": 0.4668, "color": "#7dc27b"}, {"offset": 0.4668, "color": "rgba(255,255,255,0)"},
        {"offset": 0.5391, "color": "rgba(255,255,255,0)"}, {"offset": 0.5391, "color": "#7dc27b"}, {"offset": 0.5453, "color": "#7dc27b"}, {"offset": 0.5453, "color": "rgba(255,255,255,0)"},
        {"offset": 0.6176, "color": "rgba(255,255,255,0)"}, {"offset": 0.6176, "color": "#7dc27b"}, {"offset": 0.6238, "color": "#7dc27b"}, {"offset": 0.6238, "color": "rgba(255,255,255,0)"},
        {"offset": 0.6961, "color": "rgba(255,255,255,0)"}, {"offset": 0.6961, "color": "#7dc27b"}, {"offset": 0.7023, "color": "#7dc27b"}, {"offset": 0.7023, "color": "rgba(255,255,255,0)"},
        {"offset": 0.7746, "color": "rgba(255,255,255,0)"}, {"offset": 0.7746, "color": "#7dc27b"}, {"offset": 0.7808, "color": "#7dc27b"}, {"offset": 0.7808, "color": "rgba(255,255,255,0)"},
        {"offset": 0.8531, "color": "rgba(255,255,255,0)"}, {"offset": 0.8531, "color": "#7dc27b"}, {"offset": 0.8593, "color": "#7dc27b"}, {"offset": 0.8593, "color": "rgba(255,255,255,0)"},
        {"offset": 0.9316, "color": "rgba(255,255,255,0)"}, {"offset": 0.9316, "color": "#7dc27b"}, {"offset": 0.9378, "color": "#7dc27b"}, {"offset": 0.9378, "color": "rgba(255,255,255,0)"},
        {"offset": 1, "color": "rgba(255,255,255,0)"}]}},
      "encoding": {
        "theta": {"field": "t0", "type": "quantitative", "scale": {"domain": [0, 100]}},
        "theta2": {"field": "t1"},
        "x": {"datum": 0, "type": "quantitative", "scale": {"domain": [-245.0, 237.59], "nice": false, "zero": false}, "axis": null},
        "y": {"datum": 0, "type": "quantitative", "scale": {"domain": [-100.76, 160.85], "nice": false, "zero": false}, "axis": null}
      }
    },
    {
      "data": {"name": "slices"},
      "transform": [{"stack": "value", "groupby": [], "sort": [{"field": "ord"}], "as": ["t0", "t1"]}, {"filter": "datum.id === 's6'"}],
      "mark": {"type": "arc", "radius": 224, "fill": {"gradient": "linear", "x1": 0, "y1": 0, "x2": 1, "y2": 0, "stops": [
        {"offset": 0, "color": "#ffffff"},
        {"offset": 0.3578, "color": "#ffffff"}, {"offset": 0.3578, "color": "#7dc27b"}, {"offset": 0.3968, "color": "#7dc27b"}, {"offset": 0.3968, "color": "#ffffff"},
        {"offset": 0.8270, "color": "#ffffff"}, {"offset": 0.8270, "color": "#7dc27b"}, {"offset": 0.8660, "color": "#7dc27b"}, {"offset": 0.8660, "color": "#ffffff"},
        {"offset": 1, "color": "#ffffff"}]}},
      "encoding": {
        "theta": {"field": "t0", "type": "quantitative", "scale": {"domain": [0, 100]}},
        "theta2": {"field": "t1"},
        "x": {"datum": 0, "type": "quantitative", "scale": {"domain": [-245.0, 237.59], "nice": false, "zero": false}, "axis": null},
        "y": {"datum": 0, "type": "quantitative", "scale": {"domain": [-100.76, 160.85], "nice": false, "zero": false}, "axis": null}
      }
    },
    {
      "data": {"name": "slices"},
      "transform": [{"stack": "value", "groupby": [], "sort": [{"field": "ord"}], "as": ["t0", "t1"]}],
      "mark": {"type": "arc", "radius": 224, "filled": false, "stroke": "#6ab867", "strokeWidth": 3, "strokeJoin": "round"},
      "encoding": {
        "theta": {"field": "t0", "type": "quantitative", "scale": {"domain": [0, 100]}},
        "theta2": {"field": "t1"},
        "x": {"datum": 0, "type": "quantitative", "scale": {"domain": [-245.0, 237.59], "nice": false, "zero": false}, "axis": null},
        "y": {"datum": 0, "type": "quantitative", "scale": {"domain": [-100.76, 160.85], "nice": false, "zero": false}, "axis": null}
      }
    },
    {
      "data": {"name": "leaders"},
      "mark": {"type": "line", "stroke": "#6ab867", "strokeWidth": 2.8, "strokeJoin": "miter"},
      "encoding": {
        "x": {"field": "u", "type": "quantitative", "scale": {"domain": [-245.0, 237.59], "nice": false, "zero": false}, "axis": null},
        "y": {"field": "v", "type": "quantitative", "scale": {"domain": [-100.76, 160.85], "nice": false, "zero": false}, "axis": null},
        "detail": {"field": "g"},
        "order": {"field": "o", "type": "quantitative"}
      }
    },
    {
      "data": {"name": "underlines"},
      "mark": {"type": "rule", "stroke": "#2c64aa", "strokeWidth": 2},
      "encoding": {
        "x": {"field": "u", "type": "quantitative", "scale": {"domain": [-245.0, 237.59], "nice": false, "zero": false}, "axis": null},
        "x2": {"field": "u2"},
        "y": {"field": "v", "type": "quantitative", "scale": {"domain": [-100.76, 160.85], "nice": false, "zero": false}, "axis": null}
      }
    },
    {
      "data": {"name": "labels"},
      "mark": {"type": "text", "align": "left", "baseline": "alphabetic", "font": "DejaVu Sans", "fontSize": 23, "color": "#2c64aa"},
      "encoding": {
        "x": {"field": "u", "type": "quantitative", "scale": {"domain": [-245.0, 237.59], "nice": false, "zero": false}, "axis": null},
        "y": {"field": "v", "type": "quantitative", "scale": {"domain": [-100.76, 160.85], "nice": false, "zero": false}, "axis": null},
        "text": {"field": "text"}
      }
    }
  ]
}
